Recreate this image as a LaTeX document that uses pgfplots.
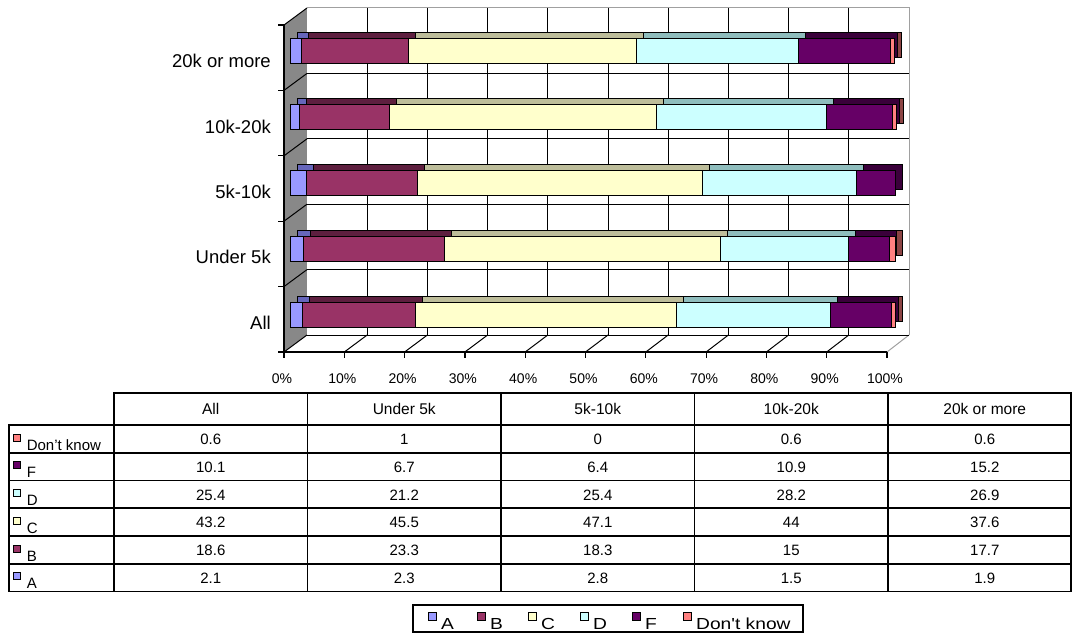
\documentclass[border=0pt]{standalone}
\usepackage{pgfplots}
\pgfplotsset{compat=1.18}
\usepackage{pgfplotstable}
\usepackage{fontspec}
\setmainfont{Liberation Sans}
\newfontfamily\widefont[FakeStretch=1.2]{Liberation Sans}

% series colours (front faces) and their shaded depth faces
\definecolor{cA}{HTML}{9999FF}  \definecolor{dA}{HTML}{6666BB}
\definecolor{cB}{HTML}{993366}  \definecolor{dB}{HTML}{5E1F3F}
\definecolor{cC}{HTML}{FFFFCC}  \definecolor{dC}{HTML}{BDBD9A}
\definecolor{cD}{HTML}{CCFFFF}  \definecolor{dD}{HTML}{8FBDBD}
\definecolor{cF}{HTML}{660066}  \definecolor{dF}{HTML}{3A003A}
\definecolor{cK}{HTML}{FF8080}  \definecolor{dK}{HTML}{8C4444}
\definecolor{wall}{HTML}{888888}
\definecolor{edge}{HTML}{A0A0A0}

% percentage of respondents in each band
\pgfplotstableread[col sep=comma]{
cat,A,B,C,D,F,DK
All,2.1,18.6,43.2,25.4,10.1,0.6
Under 5k,2.3,23.3,45.5,21.2,6.7,1
5k-10k,2.8,18.3,47.1,25.4,6.4,0
10k-20k,1.5,15,44,28.2,10.9,0.6
20k or more,1.9,17.7,37.6,26.9,15.2,0.6
}\data

\pgfplotsset{
  barbox/.style={
    scale only axis, width=605pt, height=330.5pt,
    xmin=0, xmax=100, ymin=-0.5, ymax=4.5,
    axis lines=none, xbar stacked, bar width=25pt, clip=false,
    every axis plot/.append style={draw=black, line width=0.9pt},
  },
}

\newcommand{\catfont}{\fontsize{18.5}{18.5}\selectfont}
\newcommand{\tickfont}{\fontsize{14}{14}\selectfont}
\newcommand{\tabfont}{\fontsize{15}{15}\selectfont}
\newcommand{\headfont}{\fontsize{15.5}{15.5}\selectfont}
\newcommand{\legfont}{\widefont\fontsize{16}{16}\selectfont}

\begin{document}
\begin{tikzpicture}
\path[use as bounding box] (0,0) rectangle (1073pt,-634pt);

% ---- walls, floor and grid of the 3-D frame ----
\begin{scope}[x=1pt,y=-1pt]
  \fill[wall] (284,25) -- (307,8) -- (307,335) -- (284,352) -- cycle;
  \fill[white] (307,8) rectangle (909,335);
  \draw[edge, line width=1pt] (307,8) -- (909,8) -- (909,335);
  \draw[edge, line width=1pt] (887,352) -- (909,335);
  \foreach \k in {1,...,9}
    \draw[line width=1pt] ({307+60.2*\k},8) -- ({307+60.2*\k},335);
  \foreach \j in {0,...,4}
    \draw[line width=1pt] (307,{335-65.4*\j}) -- (909,{335-65.4*\j});
  \foreach \k in {1,...,9}
    \draw[line width=1pt] ({284+60.3*\k},352) -- ({307+60.2*\k},335);
  \foreach \j in {0,...,5}
    \draw[line width=1pt] (284,{352-65.4*\j}) -- (307,{335-65.4*\j});
  % front axes with ticks
  \draw[line width=1.2pt] (284,25) -- (284,352) -- (887,352);
  \foreach \j in {0,...,5}
    \draw[line width=1.2pt] (278,{352-65.4*\j}) -- (284,{352-65.4*\j});
  \foreach \k in {0,...,10} {
    \draw[line width=1.2pt] ({284+60.3*\k},352) -- ({284+60.3*\k},358);
    \pgfmathtruncatemacro{\pc}{10*\k}
    \node[anchor=base, font=\tickfont, inner sep=0pt] at ({282+60.3*\k},383) {\pc\%};
  }
  % category names
  \foreach \c in {0,...,4} {
    \pgfplotstablegetelem{\c}{cat}\of\data
    \node[anchor=base east, font=\catfont, inner sep=0pt] at (271,{329.3-65.4*\c}) {\pgfplotsretval};
  }
\end{scope}

% ---- depth faces of the bars ----
\begin{axis}[barbox, at={(297pt,-342pt)}, anchor=south west]
  \addplot[fill=dA] table[x=A, y expr=\coordindex]{\data};
  \addplot[fill=dB] table[x=B, y expr=\coordindex]{\data};
  \addplot[fill=dC] table[x=C, y expr=\coordindex]{\data};
  \addplot[fill=dD] table[x=D, y expr=\coordindex]{\data};
  \addplot[fill=dF] table[x=F, y expr=\coordindex]{\data};
  \addplot[fill=dK] table[x=DK, y expr=\coordindex]{\data};
\end{axis}

% ---- front faces of the bars ----
\begin{axis}[barbox, at={(290pt,-348pt)}, anchor=south west]
  \addplot[fill=cA] table[x=A, y expr=\coordindex]{\data};
  \addplot[fill=cB] table[x=B, y expr=\coordindex]{\data};
  \addplot[fill=cC] table[x=C, y expr=\coordindex]{\data};
  \addplot[fill=cD] table[x=D, y expr=\coordindex]{\data};
  \addplot[fill=cF] table[x=F, y expr=\coordindex]{\data};
  \addplot[fill=cK] table[x=DK, y expr=\coordindex]{\data};
\end{axis}

% ---- data table under the chart ----
\begin{scope}[x=1pt,y=-1pt, line width=1.6pt]
  \draw (114,393) rectangle (1071,425);
  \draw (9,425) rectangle (1071,591.5);
  \foreach \i in {1,...,5}
    \draw (9,{425+27.75*\i}) -- (1071,{425+27.75*\i});
  \foreach \x in {307.5,501,694.5,888}
    \draw (\x,393) -- (\x,591.5);
  \draw (114,393) -- (114,591.5);
  % column heads
  \foreach \c in {0,...,4} {
    \pgfplotstablegetelem{\c}{cat}\of\data
    \node[anchor=base, font=\headfont, inner sep=0pt] at ({210.75+193.5*\c},414) {\pgfplotsretval};
  }
  % row heads with keys, and the values
  \foreach \s/\col/\lab [count=\i from 0] in {DK/cK/Don't know, F/cF/F, D/cD/D, C/cC/C, B/cB/B, A/cA/A} {
    \draw[line width=0.6pt, fill=\col] (13,{425+27.75*\i+9}) rectangle (20,{425+27.75*\i+16});
    \node[anchor=base west, font=\tabfont, inner sep=0pt] at (26,{425+27.75*\i+25}) {\lab};
    \foreach \c in {0,...,4} {
      \pgfplotstablegetelem{\c}{\s}\of\data
      \node[anchor=base, font=\tabfont, inner sep=0pt] at ({210.75+193.5*\c},{425+27.75*\i+19.5}) {\pgfplotsretval};
    }
  }
\end{scope}

% ---- legend ----
\begin{scope}[x=1pt,y=-1pt]
  \draw[line width=1.4pt] (413,605) rectangle (803,632);
  \foreach \col/\lab/\x in {cA/A/428, cB/B/477, cC/C/528, cD/D/580, cF/F/632, cK/Don't know/683} {
    \draw[line width=0.6pt, fill=\col] (\x,612) rectangle ({\x+8},620);
    \node[anchor=base west, font=\legfont, inner sep=0pt] at ({\x+13},629) {\lab};
  }
\end{scope}
\end{tikzpicture}
\end{document}
